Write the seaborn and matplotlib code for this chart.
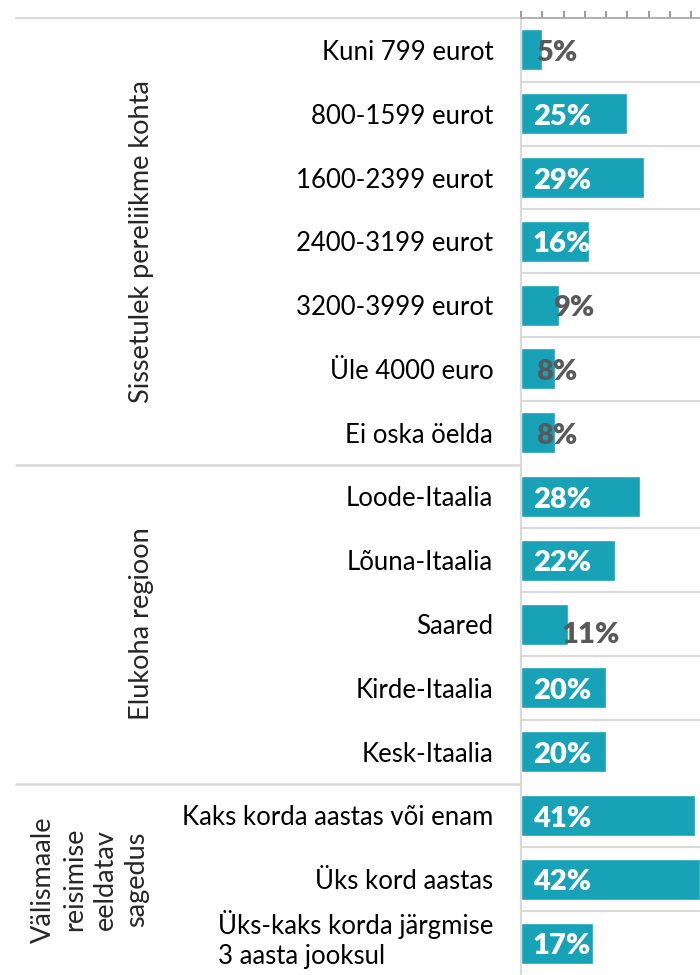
import matplotlib
matplotlib.use("Agg")
import matplotlib.pyplot as plt
from matplotlib.lines import Line2D
from matplotlib.transforms import ScaledTranslation
import seaborn as sns
import pandas as pd

# survey shares (%), one list per group
income_labels = ["Kuni 799 eurot", "800-1599 eurot", "1600-2399 eurot", "2400-3199 eurot",
                 "3200-3999 eurot", "Üle 4000 euro", "Ei oska öelda"]
income_values = [5, 25, 29, 16, 9, 8, 8]

region_labels = ["Loode-Itaalia", "Lõuna-Itaalia", "Saared", "Kirde-Itaalia", "Kesk-Itaalia"]
region_values = [28, 22, 11, 20, 20]

travel_labels = ["Kaks korda aastas või enam", "Üks kord aastas",
                 "Üks-kaks korda järgmise\n3 aasta jooksul"]
travel_values = [41, 42, 17]

group_names = ["Sissetulek pereliikme kohta", "Elukoha regioon",
               "Välismaale\nreisimise\neeldatav\nsagedus"]

BAR = "#17a2b8"
GRID = "#d9d9d9"
DARK = "#595959"
FONT = ["Lato", "DejaVu Sans"]

sns.set_theme(style="white")
plt.rcParams["font.family"] = FONT

groups = [income_labels, region_labels, travel_labels]
vals = [income_values, region_values, travel_values]
df = pd.DataFrame({
    "label": sum(groups, []),
    "value": sum(vals, []),
    "group": sum([[g] * len(l) for g, l in zip(group_names, groups)], []),
})
n = len(df)

W, H = 700, 975
fig = plt.figure(figsize=(7, 9.75), dpi=100)
x0, top = 521 / W, 1 - 18 / H
ax = fig.add_axes([x0, 0, 1 - x0, top])

sns.barplot(data=df, x="value", y="label", orient="h", color=BAR, width=0.64,
            saturation=1, ax=ax)
ax.set_xlim(0, 179 / 4.25)
ax.set_ylim(n - 0.5, -0.5)
ax.set_xlabel("")
ax.set_ylabel("")

# ticks on top, category labels on left
ax.xaxis.tick_top()
ax.set_xticks(range(0, 45, 5))
ax.tick_params(axis="x", direction="out", length=5, width=1.2, color="#8c8c8c",
               labeltop=False, top=True, bottom=False)
ax.tick_params(axis="y", length=0, pad=20, labelsize=18.5, labelcolor="black")
for t in ax.get_yticklabels():
    if "\n" in t.get_text():
        t.set_multialignment("left")
        t.set_linespacing(1.25)
        # nudge the two-line label up so it stays inside the figure
        t.set_transform(t.get_transform() + ScaledTranslation(0, 9 / 100, fig.dpi_scale_trans))

for s in ["right", "bottom"]:
    ax.spines[s].set_visible(False)
ax.spines["top"].set_color("#a6a6a6")
ax.spines["top"].set_linewidth(1.2)
ax.spines["left"].set_color(GRID)
ax.spines["left"].set_linewidth(1.5)

# row separators
sizes = [len(g) for g in groups]
bounds = [sum(sizes[:i + 1]) for i in range(len(sizes) - 1)]
for i in range(n - 1):
    if i + 1 not in bounds:
        ax.axhline(i + 0.5, color=GRID, lw=1.5, zorder=0)

# group separators spanning label area, and top rule
def fig_y(row):
    return top * (1 - (row + 0.5) / n)

fig.add_artist(Line2D([16 / W, 1], [top, top], color=GRID, lw=1.5, zorder=0))
for b in bounds:
    y = fig_y(b - 0.5)
    fig.add_artist(Line2D([16 / W, 1], [y, y], color=GRID, lw=1.8, zorder=0))

# group titles
starts = [0] + bounds
for name, s, size in zip(group_names, starts, sizes):
    yc = fig_y(s + (size - 1) / 2)
    xc = 142 / W if "\n" not in name else 90 / W
    fig.text(xc, yc, name, rotation=90, ha="center", va="center", fontsize=19.5,
             multialignment="center", linespacing=1.3)

# value labels
for i, v in enumerate(df["value"]):
    if v >= 12:
        ax.text(2.8, i + 0.05, f"{v}%", color="white", fontweight="heavy",
                fontsize=21, va="center", ha="left")
    else:
        x = 3.6 if v < 9 else v - 1.5
        dy = 0.17 if v > 10 else 0.05
        ax.text(x, i + dy, f"{v}%", color=DARK, fontweight="heavy",
                fontsize=21, va="center", ha="left")

fig.savefig("out.png", dpi=100)
